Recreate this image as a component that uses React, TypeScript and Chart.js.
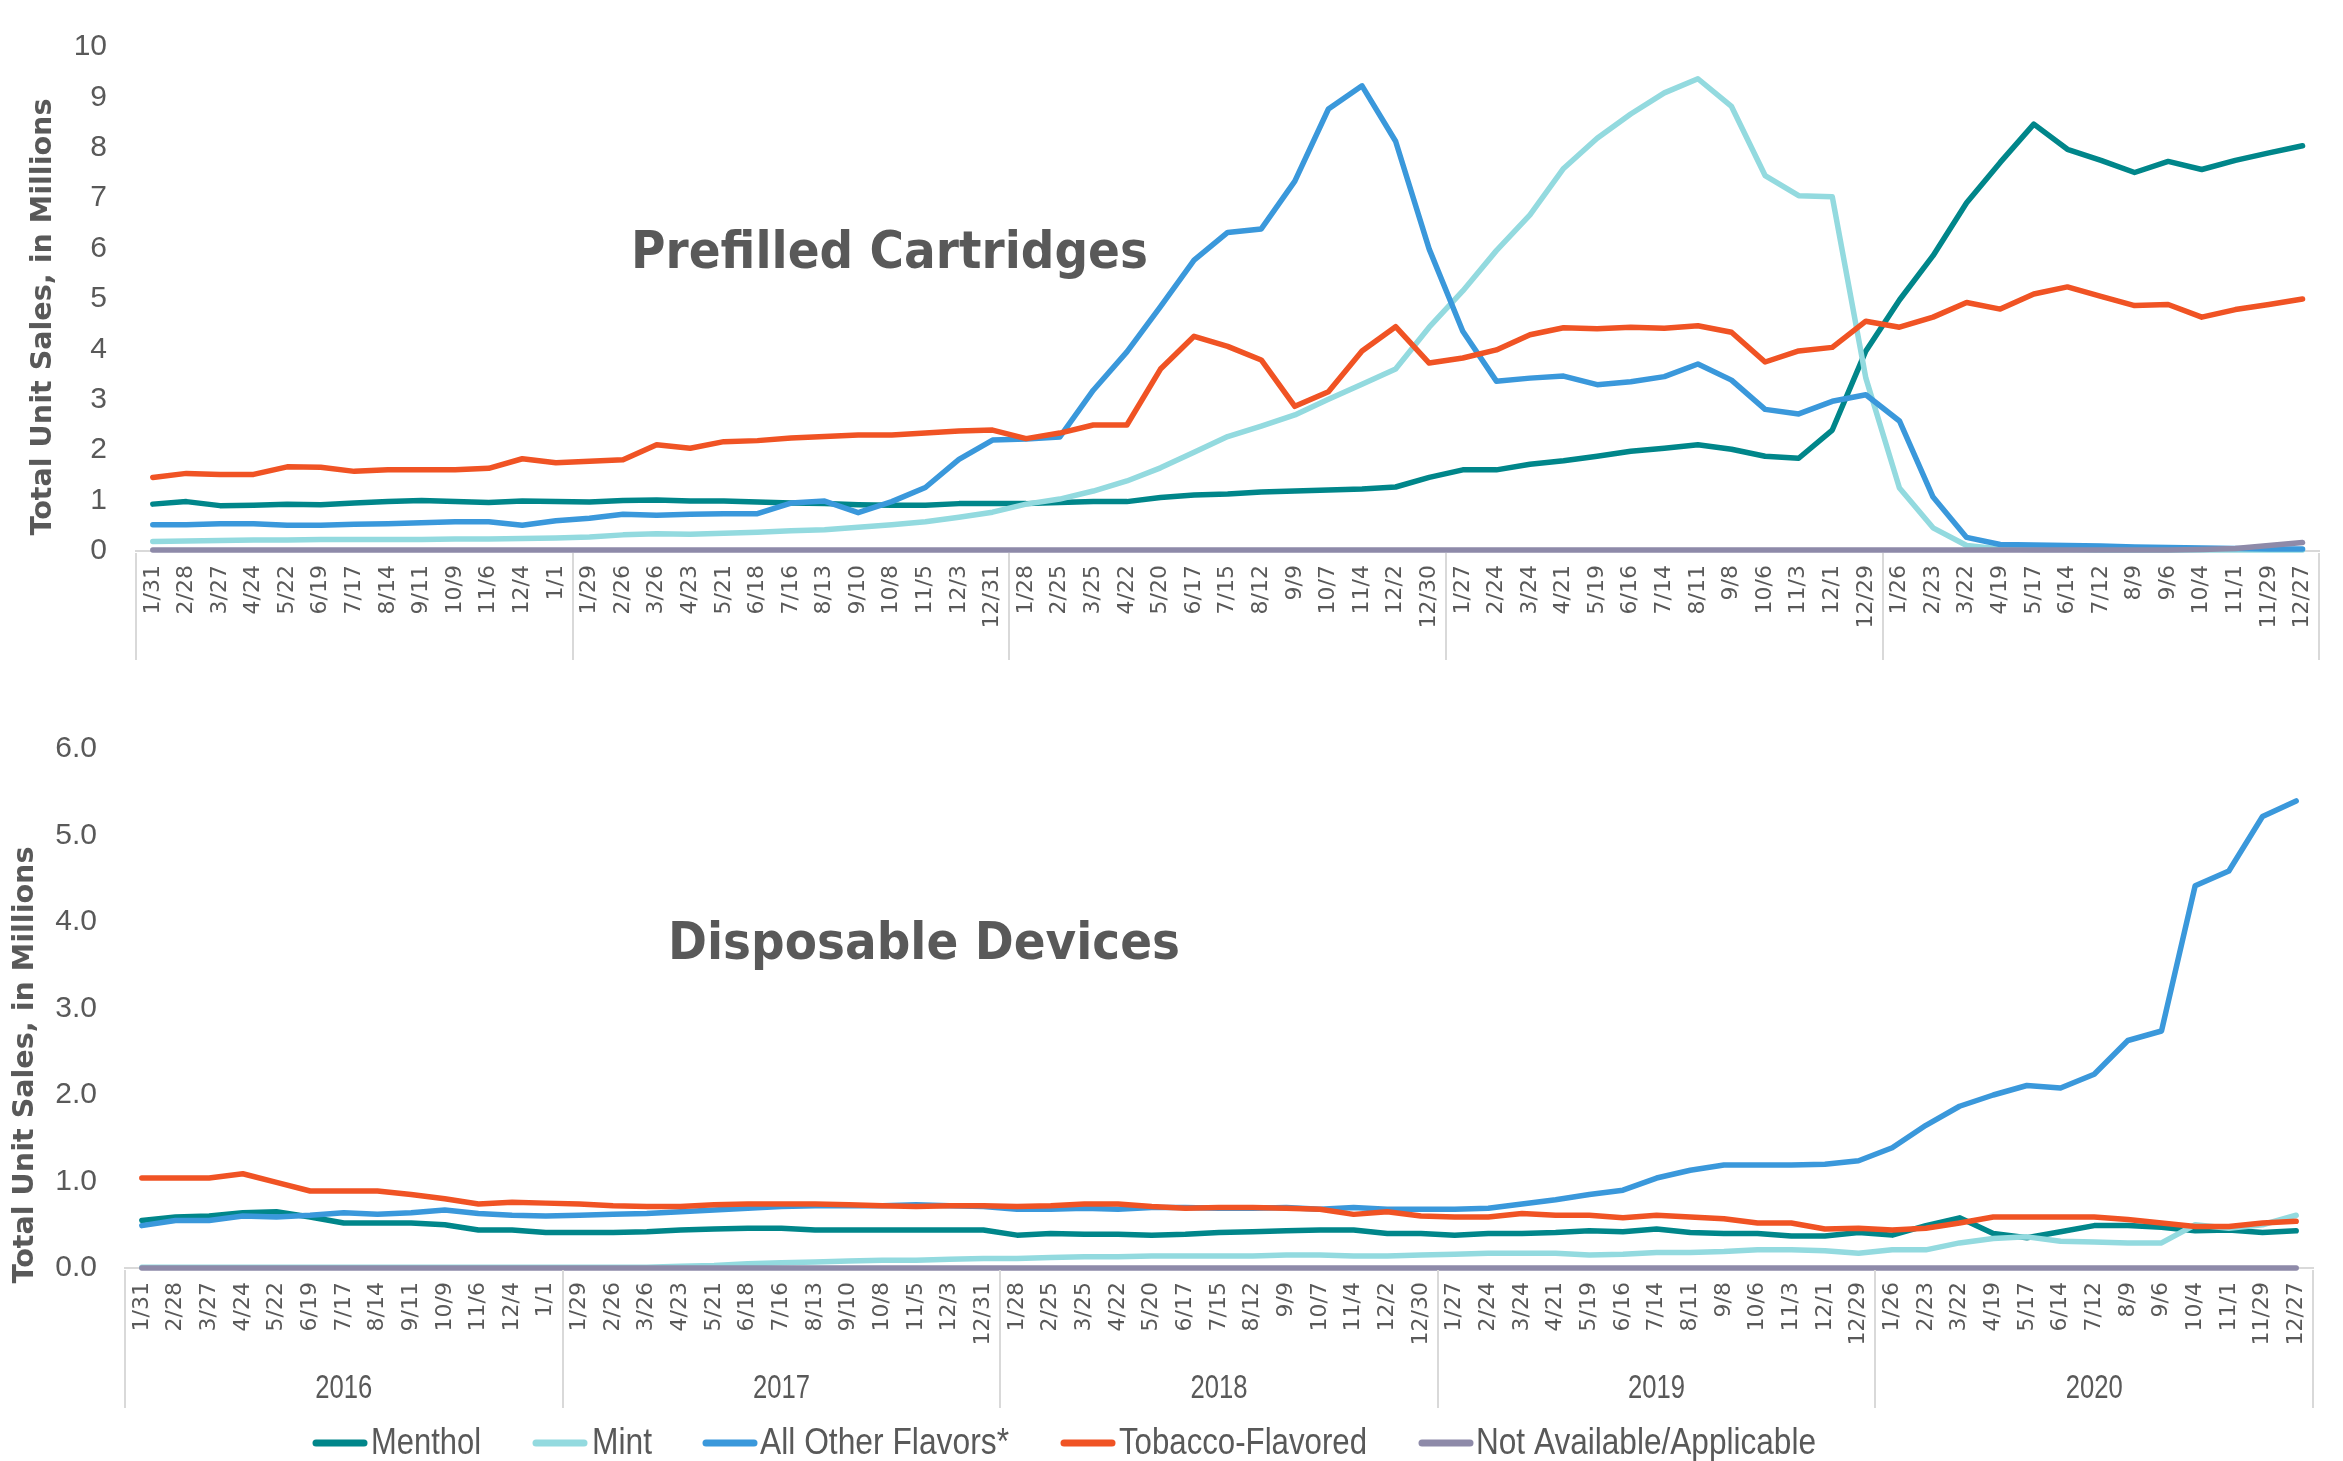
import React, { useEffect, useRef } from 'react';
import { Chart, registerables } from 'chart.js';

Chart.register(...registerables);

// ---------- categories ----------
const dateLabels = [
  '1/31', '2/28', '3/27', '4/24', '5/22', '6/19', '7/17', '8/14', '9/11', '10/9', '11/6', '12/4', '1/1',
  '1/29', '2/26', '3/26', '4/23', '5/21', '6/18', '7/16', '8/13', '9/10', '10/8', '11/5', '12/3', '12/31',
  '1/28', '2/25', '3/25', '4/22', '5/20', '6/17', '7/15', '8/12', '9/9', '10/7', '11/4', '12/2', '12/30',
  '1/27', '2/24', '3/24', '4/21', '5/19', '6/16', '7/14', '8/11', '9/8', '10/6', '11/3', '12/1', '12/29',
  '1/26', '2/23', '3/22', '4/19', '5/17', '6/14', '7/12', '8/9', '9/6', '10/4', '11/1', '11/29', '12/27',
];
const yearLabels = ['2016', '2017', '2018', '2019', '2020'];
const yearGroupSizes = [13, 13, 13, 13, 13];

const seriesNames = ['Menthol', 'Mint', 'All Other Flavors*', 'Tobacco-Flavored', 'Not Available/Applicable'];
const seriesColors = ['#00868A', '#93DADF', '#3A98DB', '#F05324', '#8E8AA9'];

const cartridgeTickLabels = ['0', '1', '2', '3', '4', '5', '6', '7', '8', '9', '10'];
const disposableTickLabels = ['0.0', '1.0', '2.0', '3.0', '4.0', '5.0', '6.0'];

const cartridgeTitle = 'Prefilled Cartridges';
const disposableTitle = 'Disposable Devices';
const yAxisTitle = 'Total Unit Sales, in Millions';

// ---------- Prefilled Cartridges (millions) ----------
const cartMenthol = [
  0.93, 0.98, 0.90, 0.91, 0.93, 0.92, 0.95, 0.98, 1.00, 0.98, 0.96, 0.99, 0.98,
  0.97, 1.00, 1.01, 0.99, 0.99, 0.97, 0.95, 0.94, 0.92, 0.91, 0.91, 0.94, 0.94,
  0.94, 0.96, 0.98, 0.98, 1.06, 1.11, 1.13, 1.17, 1.19, 1.21, 1.23, 1.27, 1.46,
  1.61, 1.61, 1.72, 1.79, 1.88, 1.98, 2.04, 2.11, 2.02, 1.88, 1.84, 2.40, 3.97,
  4.98, 5.86, 6.91, 7.71, 8.47, 7.97, 7.75, 7.51, 7.73, 7.57, 7.75, 7.90, 8.04,
];
const cartMint = [
  0.19, 0.20, 0.21, 0.22, 0.22, 0.23, 0.23, 0.23, 0.23, 0.24, 0.24, 0.25, 0.26,
  0.28, 0.32, 0.34, 0.33, 0.35, 0.37, 0.40, 0.42, 0.47, 0.52, 0.58, 0.67, 0.77,
  0.93, 1.03, 1.19, 1.39, 1.65, 1.96, 2.27, 2.48, 2.70, 3.01, 3.31, 3.61, 4.44,
  5.16, 5.96, 6.67, 7.59, 8.19, 8.67, 9.09, 9.37, 8.82, 7.45, 7.05, 7.03, 3.43,
  1.25, 0.46, 0.11, 0.04, 0.03, 0.03, 0.02, 0.02, 0.02, 0.02, 0.02, 0.02, 0.02,
];
const cartAllOther = [
  0.52, 0.52, 0.54, 0.54, 0.51, 0.51, 0.53, 0.54, 0.56, 0.58, 0.58, 0.51, 0.60,
  0.65, 0.73, 0.71, 0.73, 0.74, 0.74, 0.95, 0.99, 0.76, 0.98, 1.26, 1.82, 2.20,
  2.22, 2.26, 3.19, 3.95, 4.85, 5.77, 6.32, 6.39, 7.34, 8.77, 9.23, 8.13, 5.99,
  4.36, 3.37, 3.43, 3.47, 3.30, 3.36, 3.46, 3.71, 3.39, 2.81, 2.72, 2.97, 3.10,
  2.58, 1.07, 0.27, 0.13, 0.12, 0.11, 0.10, 0.08, 0.07, 0.06, 0.05, 0.04, 0.04,
];
const cartTobacco = [
  1.46, 1.54, 1.52, 1.52, 1.67, 1.66, 1.58, 1.61, 1.61, 1.61, 1.64, 1.83, 1.75,
  1.78, 1.81, 2.11, 2.04, 2.17, 2.19, 2.24, 2.27, 2.30, 2.30, 2.34, 2.38, 2.40,
  2.23, 2.34, 2.50, 2.50, 3.61, 4.26, 4.06, 3.79, 2.87, 3.16, 3.97, 4.45, 3.73,
  3.83, 3.99, 4.29, 4.43, 4.41, 4.44, 4.42, 4.47, 4.34, 3.75, 3.97, 4.04, 4.56,
  4.44, 4.64, 4.93, 4.80, 5.10, 5.24, 5.05, 4.87, 4.89, 4.64, 4.79, 4.89, 5.00,
];
const cartNotAvailable = [
  0.02, 0.02, 0.02, 0.02, 0.02, 0.02, 0.02, 0.02, 0.02, 0.02, 0.02, 0.02, 0.02,
  0.02, 0.02, 0.02, 0.02, 0.02, 0.02, 0.02, 0.02, 0.02, 0.02, 0.02, 0.02, 0.02,
  0.02, 0.02, 0.02, 0.02, 0.02, 0.02, 0.02, 0.02, 0.02, 0.02, 0.02, 0.02, 0.02,
  0.02, 0.02, 0.02, 0.02, 0.02, 0.02, 0.02, 0.02, 0.02, 0.02, 0.02, 0.02, 0.02,
  0.02, 0.02, 0.02, 0.02, 0.02, 0.02, 0.02, 0.02, 0.02, 0.03, 0.05, 0.11, 0.17,
];

// ---------- Disposable Devices (millions) ----------
const dispMenthol = [
  0.55, 0.59, 0.60, 0.64, 0.65, 0.59, 0.52, 0.52, 0.52, 0.50, 0.44, 0.44, 0.41,
  0.41, 0.41, 0.42, 0.44, 0.45, 0.46, 0.46, 0.44, 0.44, 0.44, 0.44, 0.44, 0.44,
  0.38, 0.40, 0.39, 0.39, 0.38, 0.39, 0.41, 0.42, 0.43, 0.44, 0.44, 0.40, 0.40,
  0.38, 0.40, 0.40, 0.41, 0.43, 0.42, 0.45, 0.41, 0.40, 0.40, 0.37, 0.37, 0.41,
  0.38, 0.49, 0.58, 0.40, 0.35, 0.42, 0.49, 0.49, 0.47, 0.43, 0.44, 0.41, 0.43,
];
const dispMint = [
  0.01, 0.01, 0.01, 0.01, 0.01, 0.01, 0.01, 0.01, 0.01, 0.01, 0.01, 0.01, 0.01,
  0.01, 0.01, 0.01, 0.02, 0.03, 0.05, 0.06, 0.07, 0.08, 0.09, 0.09, 0.10, 0.11,
  0.11, 0.12, 0.13, 0.13, 0.14, 0.14, 0.14, 0.14, 0.15, 0.15, 0.14, 0.14, 0.15,
  0.16, 0.17, 0.17, 0.17, 0.15, 0.16, 0.18, 0.18, 0.19, 0.21, 0.21, 0.20, 0.17,
  0.21, 0.21, 0.29, 0.34, 0.36, 0.31, 0.30, 0.29, 0.29, 0.50, 0.46, 0.50, 0.61,
];
const dispAllOther = [
  0.49, 0.55, 0.55, 0.60, 0.59, 0.61, 0.64, 0.62, 0.64, 0.67, 0.63, 0.61, 0.60,
  0.61, 0.62, 0.63, 0.65, 0.67, 0.69, 0.71, 0.72, 0.72, 0.72, 0.73, 0.72, 0.71,
  0.68, 0.68, 0.69, 0.68, 0.70, 0.70, 0.69, 0.69, 0.70, 0.68, 0.70, 0.68, 0.68,
  0.68, 0.69, 0.74, 0.79, 0.85, 0.90, 1.04, 1.13, 1.19, 1.19, 1.19, 1.20, 1.24,
  1.39, 1.65, 1.87, 2.00, 2.11, 2.08, 2.24, 2.63, 2.74, 4.42, 4.59, 5.22, 5.40,
];
const dispTobacco = [
  1.04, 1.04, 1.04, 1.09, 0.99, 0.89, 0.89, 0.89, 0.85, 0.80, 0.74, 0.76, 0.75,
  0.74, 0.72, 0.71, 0.71, 0.73, 0.74, 0.74, 0.74, 0.73, 0.72, 0.71, 0.72, 0.72,
  0.71, 0.72, 0.74, 0.74, 0.71, 0.69, 0.70, 0.70, 0.69, 0.68, 0.62, 0.65, 0.60,
  0.59, 0.59, 0.63, 0.61, 0.61, 0.58, 0.61, 0.59, 0.57, 0.52, 0.52, 0.45, 0.46,
  0.44, 0.46, 0.52, 0.59, 0.59, 0.59, 0.59, 0.56, 0.52, 0.48, 0.48, 0.52, 0.54,
];
const dispNotAvailable = [
  0, 0, 0, 0, 0, 0, 0, 0, 0, 0, 0, 0, 0,
  0, 0, 0, 0, 0, 0, 0, 0, 0, 0, 0, 0, 0,
  0, 0, 0, 0, 0, 0, 0, 0, 0, 0, 0, 0, 0,
  0, 0, 0, 0, 0, 0, 0, 0, 0, 0, 0, 0, 0,
  0, 0, 0, 0, 0, 0, 0, 0, 0, 0, 0, 0, 0,
];

const cartridgeSeries = [cartMenthol, cartMint, cartAllOther, cartTobacco, cartNotAvailable];
const disposableSeries = [dispMenthol, dispMint, dispAllOther, dispTobacco, dispNotAvailable];

const TEXT = '#595959';
const AXIS = '#D9D9D9';
const ARIAL = "'Liberation Sans', Arial, sans-serif";
const VERDANA = "'DejaVu Sans', Verdana, sans-serif";

function fitText(ctx: CanvasRenderingContext2D, text: string, x: number, y: number, width: number, rot: number) {
  const w = ctx.measureText(text).width;
  const s = width / w;
  ctx.save();
  ctx.translate(x, y);
  ctx.rotate(rot);
  ctx.scale(s, 1);
  ctx.fillText(text, 0, 0);
  ctx.restore();
}

// legend layout: sample start, text start, text width (px)
const legendSampleX = [313, 533, 703, 1061, 1419];
const legendTextX = [371, 592, 760, 1119, 1476];
const legendTextW = [110, 60, 249, 248, 340];

const decorPlugin = {
  id: 'decor',
  afterDraw(chart: any, _args: any, opts: any) {
    const ctx: CanvasRenderingContext2D = chart.ctx;
    const xs = chart.scales.x;
    const area = chart.chartArea;
    ctx.save();

    // multi-level axis separators
    const bounds: number[] = [area.left];
    let idx = 0;
    yearGroupSizes.forEach((g) => {
      idx += g;
      if (idx < dateLabels.length) {
        bounds.push((xs.getPixelForValue(idx - 1) + xs.getPixelForValue(idx)) / 2);
      }
    });
    bounds.push(area.right);
    ctx.strokeStyle = AXIS;
    ctx.lineWidth = 2;
    bounds.forEach((b) => {
      ctx.beginPath();
      ctx.moveTo(Math.round(b), area.bottom + 2);
      ctx.lineTo(Math.round(b), xs.bottom);
      ctx.stroke();
    });

    ctx.fillStyle = TEXT;
    if (opts.showYears) {
      ctx.font = `34px ${ARIAL}`;
      ctx.textAlign = 'center';
      ctx.textBaseline = 'middle';
      yearLabels.forEach((yl, i) => {
        fitText(ctx, yl, (bounds[i] + bounds[i + 1]) / 2, xs.bottom - opts.yearOffset, 57, 0);
      });
    }

    // chart title
    ctx.font = `bold 52px ${VERDANA}`;
    ctx.textAlign = 'left';
    ctx.textBaseline = 'alphabetic';
    fitText(ctx, opts.title, opts.titleX, opts.titleBaseline, opts.titleWidth, 0);

    // y axis title
    ctx.font = `bold 29px ${VERDANA}`;
    ctx.textAlign = 'center';
    ctx.textBaseline = 'middle';
    fitText(ctx, yAxisTitle, opts.yTitleX, opts.yTitleY, 437, -Math.PI / 2);

    // legend
    if (opts.legend) {
      const y = opts.legendY;
      ctx.font = `37px ${ARIAL}`;
      ctx.textAlign = 'left';
      ctx.textBaseline = 'middle';
      seriesNames.forEach((name, i) => {
        const x = legendSampleX[i];
        ctx.strokeStyle = seriesColors[i];
        ctx.lineWidth = 7;
        ctx.lineCap = 'round';
        ctx.beginPath();
        ctx.moveTo(x + 3, y);
        ctx.lineTo(x + 51, y);
        ctx.stroke();
        ctx.fillStyle = TEXT;
        fitText(ctx, name, legendTextX[i], y + 1, legendTextW[i], 0);
      });
    }
    ctx.restore();
  },
};

function buildConfig(series: number[][], max: number, tickLabels: string[], yWidth: number, xHeight: number, padding: any, yPad: number, decor: any): any {
  return {
    type: 'line',
    data: {
      labels: dateLabels,
      datasets: series.map((d, i) => ({
        label: seriesNames[i],
        data: d,
        borderColor: seriesColors[i],
        backgroundColor: seriesColors[i],
        borderWidth: 5.5,
        pointRadius: 0,
        pointHoverRadius: 0,
        tension: 0,
        borderJoinStyle: 'round',
        borderCapStyle: 'round',
        fill: false,
        clip: 10,
        order: series.length - i,
      })),
    },
    options: {
      responsive: false,
      animation: false,
      devicePixelRatio: 1,
      layout: { padding },
      plugins: {
        legend: { display: false },
        tooltip: { enabled: false },
        title: { display: false },
        decor,
      },
      scales: {
        x: {
          type: 'category',
          offset: true,
          grid: { display: false, drawTicks: false },
          border: { display: true, color: AXIS, width: 2 },
          ticks: {
            autoSkip: false,
            minRotation: 90,
            maxRotation: 90,
            padding: 14,
            color: TEXT,
            font: { family: VERDANA, size: 22 },
          },
          afterFit: (s: any) => { s.height = xHeight; },
        },
        y: {
          min: 0,
          max,
          grid: { display: false, drawTicks: false },
          border: { display: false },
          ticks: {
            stepSize: 1,
            padding: yPad,
            color: TEXT,
            font: { family: ARIAL, size: 30 },
            callback: (_v: any, i: number) => tickLabels[i],
          },
          afterFit: (s: any) => { s.width = yWidth; },
        },
      },
    },
    plugins: [decorPlugin],
  };
}

export default function App() {
  const topRef = useRef<HTMLCanvasElement>(null);
  const botRef = useRef<HTMLCanvasElement>(null);

  useEffect(() => {
    const top = new Chart(topRef.current as HTMLCanvasElement, buildConfig(
      cartridgeSeries, 10, cartridgeTickLabels, 136, 109,
      { top: 22, right: 9, bottom: 40, left: 0 }, 29,
      { showYears: false, title: cartridgeTitle, titleX: 631, titleBaseline: 268, titleWidth: 517, yTitleX: 43, yTitleY: 317, legend: false },
    ));
    const bot = new Chart(botRef.current as HTMLCanvasElement, buildConfig(
      disposableSeries, 6, disposableTickLabels, 125, 140,
      { top: 49, right: 30, bottom: 53, left: 0 }, 28,
      { showYears: true, yearOffset: 19, title: disposableTitle, titleX: 668, titleBaseline: 259, titleWidth: 512, yTitleX: 25, yTitleY: 365, legend: true, legendY: 743 },
    ));
    return () => { top.destroy(); bot.destroy(); };
  }, []);

  return (
    <div style={{ position: 'absolute', left: 0, top: 0, width: 2343, height: 1461, background: '#ffffff' }}>
      <canvas ref={topRef} width={2343} height={700} style={{ position: 'absolute', left: 0, top: 0, width: 2343, height: 700 }} />
      <canvas ref={botRef} width={2343} height={761} style={{ position: 'absolute', left: 0, top: 700, width: 2343, height: 761 }} />
    </div>
  );
}
